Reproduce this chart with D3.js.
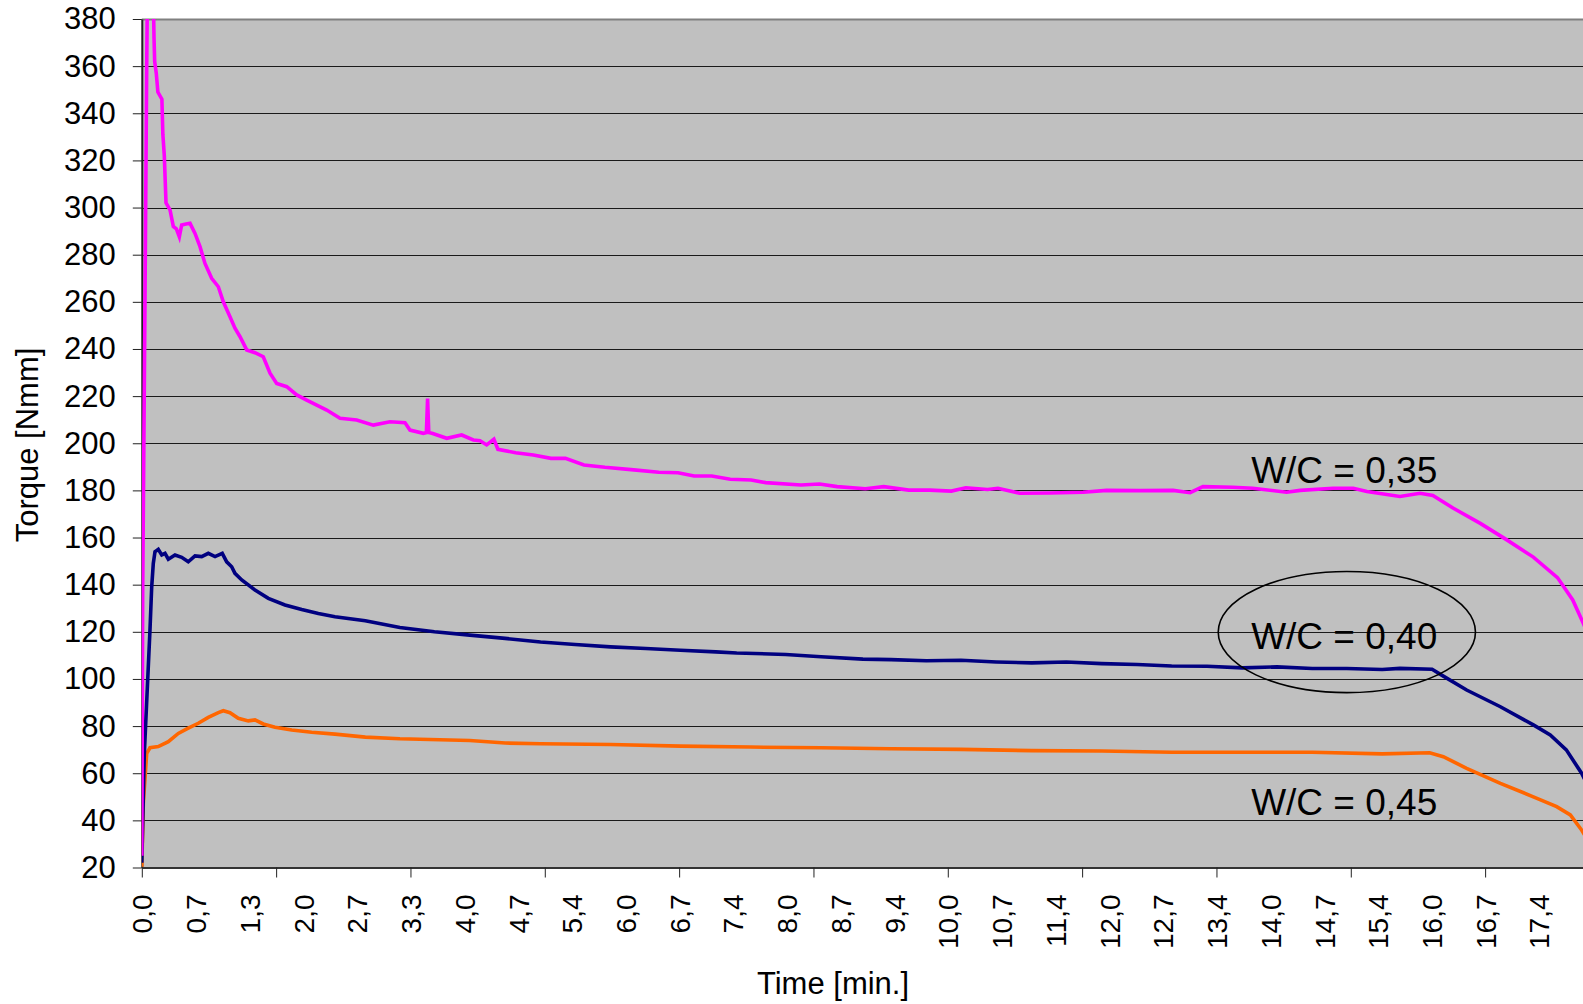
<!DOCTYPE html>
<html>
<head>
<meta charset="utf-8">
<script src="https://cdn.jsdelivr.net/npm/d3@7"></script>
<style>
  body { margin: 0; background: #fff; }
  svg { display: block; font-family: "Liberation Sans", Arial, sans-serif; }
</style>
</head>
<body>
<svg id="chart" width="1583" height="1004"></svg>
<script>
'use strict';

// time labels on the category axis (one every 40 samples)
var xLabels = ['0,0', '0,7', '1,3', '2,0', '2,7', '3,3', '4,0', '4,7', '5,4', '6,0', '6,7', '7,4', '8,0',
  '8,7', '9,4', '10,0', '10,7', '11,4', '12,0', '12,7', '13,4', '14,0', '14,7', '15,4', '16,0', '16,7', '17,4'];
var minPerLabel = 0.6684;   // minutes between two labels
var labelsPerTick = 2.5;    // tick marks every 100 samples
var yTicks = [20, 40, 60, 80, 100, 120, 140, 160, 180, 200, 220, 240, 260, 280, 300, 320, 340, 360, 380];

// W/C = 0,35
var timeMagenta = [0, 0.011, 0.04, 0.061, 0.07, 0.1, 0.14, 0.152, 0.16, 0.18, 0.2, 0.25, 0.262, 0.28, 0.301,
  0.351, 0.392, 0.43, 0.467, 0.496, 0.55, 0.6, 0.662, 0.724, 0.786, 0.869, 0.952, 1.014, 1.097, 1.159, 1.222,
  1.305, 1.408, 1.511, 1.595, 1.678, 1.803, 1.927, 2.051, 2.176, 2.3, 2.466, 2.673, 2.88, 3.087, 3.274, 3.336,
  3.502, 3.54, 3.555, 3.57, 3.61, 3.793, 3.979, 4.124, 4.207, 4.29, 4.38, 4.43, 4.65, 4.87, 5.09, 5.27, 5.5,
  5.76, 6.12, 6.43, 6.67, 6.87, 7.09, 7.32, 7.58, 7.76, 8.2, 8.43, 8.65, 9.0, 9.23, 9.54, 9.8, 10.07, 10.25,
  10.52, 10.65, 10.92, 11.3, 11.71, 12.0, 12.42, 12.83, 13.04, 13.2, 13.57, 13.82, 14.24, 14.41, 14.82, 15.07,
  15.24, 15.65, 15.9, 16.06, 16.31, 16.65, 16.98, 17.31, 17.61, 17.8, 17.93, 18.0];
var torqueMagenta = [25, 136, 262, 360, 392, 402, 395, 372, 362, 357, 349, 346, 331, 322, 302,
  299, 292, 291, 287.6, 292.6, 293, 293.3, 289, 283.4, 276.3, 270, 266.4, 260, 253.7, 248.8, 245.2,
  239.6, 238.4, 236.7, 229.7, 225.4, 224, 220.5, 218.3, 216.2, 214.1, 210.6, 209.9, 207.7, 209.1, 208.7, 205.6,
  204.2, 204.5, 219, 204.5, 204.2, 202.1, 203.5, 201.4, 201.1, 199.3, 201.7, 197.4, 196, 195, 193.6, 193.6, 190.8,
  189.8, 188.7, 187.7, 187.5, 186.1, 186.1, 184.7, 184.4, 183.3, 182.3, 182.7, 181.6, 180.7, 181.6, 180.1, 180.1, 179.7, 181.1,
  180.4, 180.9, 178.8, 178.9, 179.2, 180, 179.9, 180, 179, 181.6, 181.3, 180.9, 179.2, 180, 180.9, 180.9,
  179.5, 177.4, 178.8, 177.8, 172.5, 166, 159, 151.7, 143, 133.5, 123.7, 118];

// W/C = 0,40
var timeNavy = [0, 0.031, 0.102, 0.123, 0.143, 0.164, 0.205, 0.248, 0.289, 0.33, 0.413, 0.496, 0.578, 0.662,
  0.745, 0.827, 0.911, 1.001, 1.056, 1.118, 1.159, 1.243, 1.408, 1.574, 1.781, 1.989, 2.196, 2.403, 2.78, 3.21,
  3.64, 4.08, 4.52, 4.96, 5.39, 5.83, 6.27, 6.7, 7.14, 7.4, 8.01, 8.45, 8.97, 9.32, 9.76, 10.19, 10.63, 11.07,
  11.5, 11.94, 12.38, 12.81, 13.25, 13.69, 14.12, 14.56, 14.99, 15.43, 15.65, 16.05, 16.19, 16.48, 16.9, 17.31,
  17.52, 17.72, 17.91, 18.0];
var torqueNavy = [22, 68, 121, 139, 149, 154, 155, 152.6, 153.3, 150.8, 152.6, 151.6, 149.7, 152.2,
  151.9, 153.3, 151.9, 153.3, 149.7, 147.6, 144.8, 142, 137.7, 134.2, 131.4, 129.5, 127.8, 126.4, 124.7, 121.8,
  120, 118.6, 117.2, 115.7, 114.6, 113.6, 112.9, 112.2, 111.5, 111, 110.4, 109.4, 108.4, 108.2, 107.7, 107.9, 107.2, 106.8,
  107.2, 106.5, 106.1, 105.5, 105.4, 104.7, 105.1, 104.4, 104.4, 104, 104.5, 104.1, 101.2, 95.3, 88.2, 80.5,
  76.2, 69.9, 60, 54];

// W/C = 0,45
var timeOrange = [0, 0.019, 0.061, 0.102, 0.205, 0.33, 0.454, 0.578, 0.703, 0.827, 0.952, 1.014, 1.097, 1.2,
  1.325, 1.408, 1.511, 1.657, 1.865, 2.113, 2.403, 2.78, 3.21, 4.08, 4.52, 4.96, 5.83, 6.7, 7.57, 8.45, 9.32,
  10.19, 11.07, 11.94, 12.81, 13.69, 14.56, 15.43, 16.02, 16.19, 16.48, 16.9, 17.31, 17.6, 17.77, 17.91, 18.0];
var torqueOrange = [20.3, 47.2, 68.4, 70.8, 71.3, 73.4, 76.9, 79.1, 81.2, 83.7, 85.7, 86.5, 85.7, 83.3,
  82.2, 82.6, 80.9, 79.5, 78.3, 77.4, 76.6, 75.3, 74.6, 73.9, 72.8, 72.5, 72.2, 71.5, 71.1, 70.8, 70.4,
  70.1, 69.6, 69.4, 68.9, 68.9, 68.9, 68.2, 68.7, 67, 62.1, 55.7, 50, 45.8, 42.3, 35.9, 31];

// text labels in the plot, and the ellipse round the middle one
var noteLabels = ['W/C = 0,35', 'W/C = 0,40', 'W/C = 0,45'];
var noteTime = 13.8;
var noteTorque = [183.1, 112.7, 42.3];
var ringCenter = [14.99, 119.9];
var ringRadius = [1.6, 25.7];   // minutes, Nmm

(function() {
  var svg = d3.select('#chart');
  var left = 141.8, plotTop = 19, bottom = 867.5, right = 1590;

  var x = d3.scaleLinear().domain([0, 18]).range([left, left + 18 * 80.39]);
  var y = d3.scaleLinear().domain([20, 380]).range([bottom, plotTop]);

  svg.append('defs').append('clipPath').attr('id', 'plot')
    .append('rect').attr('x', left).attr('y', plotTop).attr('width', right - left).attr('height', bottom - plotTop);

  svg.append('rect')
    .attr('x', left).attr('y', plotTop).attr('width', right - left).attr('height', bottom - plotTop)
    .style('fill', '#c0c0c0');

  // gridlines
  svg.append('g').selectAll('line')
    .data(yTicks.slice(1))
    .enter().append('line')
    .attr('x1', left).attr('x2', right)
    .attr('y1', function(d) { return Math.round(y(d)) + 0.5; })
    .attr('y2', function(d) { return Math.round(y(d)) + 0.5; })
    .style('stroke', function(d) { return d === 380 ? '#808080' : '#1a1a1a'; })
    .style('stroke-width', function(d) { return d === 380 ? 2 : 1; });

  // y axis
  var yAxis = svg.append('g')
    .attr('transform', 'translate(' + left + ',0)')
    .call(d3.axisLeft(y).tickValues(yTicks).tickSize(9).tickSizeOuter(0).tickPadding(17));
  yAxis.select('.domain').style('stroke', '#222').style('stroke-width', 2);
  yAxis.selectAll('.tick line').style('stroke', '#222');
  yAxis.selectAll('text')
    .style('font-size', '31px').style('fill', '#000')
    .style('font-family', '"Liberation Sans", Arial, sans-serif');

  // x axis: tick marks every 2.5 labels, labels rotated
  var tickTimes = d3.range(0, 11).map(function(k) { return k * labelsPerTick * minPerLabel; });
  var labelTimes = xLabels.map(function(d, i) { return i * minPerLabel; });

  var xTicks = svg.append('g')
    .attr('transform', 'translate(0,' + bottom + ')')
    .call(d3.axisBottom(x).tickValues(tickTimes).tickSize(10).tickSizeOuter(0).tickFormat(''));
  xTicks.select('.domain').style('stroke', '#333').style('stroke-width', 2);
  xTicks.selectAll('.tick line').style('stroke', '#222');

  var xAxis = svg.append('g')
    .attr('transform', 'translate(0,' + bottom + ')')
    .call(d3.axisBottom(x).tickValues(labelTimes).tickSize(0)
      .tickFormat(function(d, i) { return xLabels[i]; }));
  xAxis.select('.domain').remove();
  xAxis.selectAll('text')
    .attr('transform', 'rotate(-90)')
    .attr('x', -27).attr('y', 0).attr('dy', '0.36em')
    .style('text-anchor', 'end')
    .style('font-size', '28px').style('fill', '#000')
    .style('font-family', '"Liberation Sans", Arial, sans-serif');

  // curves
  var series = [
    {t: timeMagenta, v: torqueMagenta, color: '#ff00ff'},
    {t: timeNavy, v: torqueNavy, color: '#000080'},
    {t: timeOrange, v: torqueOrange, color: '#ff6600'}
  ];
  var line = d3.line()
    .x(function(d) { return x(d[0]); })
    .y(function(d) { return y(d[1]); });

  svg.append('g').attr('clip-path', 'url(#plot)')
    .selectAll('path')
    .data(series.slice().reverse())
    .enter().append('path')
    .attr('d', function(s) { return line(d3.zip(s.t, s.v)); })
    .style('fill', 'none')
    .style('stroke', function(s) { return s.color; })
    .style('stroke-width', 3.6)
    .style('stroke-linejoin', 'miter');

  // notes
  svg.append('g').selectAll('text')
    .data(noteLabels)
    .enter().append('text')
    .attr('x', x(noteTime))
    .attr('y', function(d, i) { return y(noteTorque[i]); })
    .style('font-size', '37px')
    .text(function(d) { return d; });

  svg.append('ellipse')
    .attr('cx', x(ringCenter[0])).attr('cy', y(ringCenter[1]))
    .attr('rx', x(ringRadius[0]) - x(0)).attr('ry', y(20) - y(20 + ringRadius[1]))
    .style('fill', 'none').style('stroke', '#000').style('stroke-width', 1.6);

  // axis titles
  svg.append('text')
    .attr('transform', 'translate(38,445) rotate(-90)')
    .style('text-anchor', 'middle').style('font-size', '31px')
    .text('Torque [Nmm]');

  svg.append('text')
    .attr('x', 833).attr('y', 994)
    .style('text-anchor', 'middle').style('font-size', '31px')
    .text('Time [min.]');
})();
</script>
</body>
</html>
